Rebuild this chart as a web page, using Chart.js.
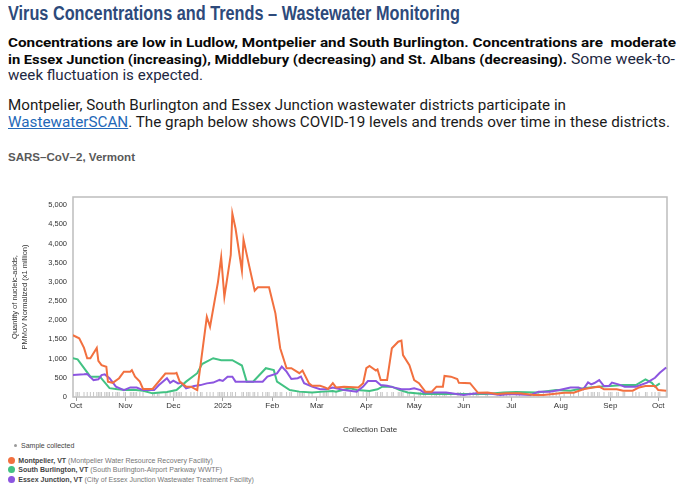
<!DOCTYPE html>
<html><head><meta charset="utf-8">
<script src="https://cdn.jsdelivr.net/npm/chart.js@4.4.0/dist/chart.umd.min.js"></script>
<style>
html,body{margin:0;padding:0;background:#fff;}
body{width:683px;height:489px;position:relative;overflow:hidden;font-family:Roboto,"Liberation Sans",sans-serif;}
.ln{position:absolute;left:8px;white-space:nowrap;transform-origin:0 0;}
.title{font-family:"Liberation Sans Narrow","Liberation Sans",sans-serif;font-weight:bold;color:#2d4a7b;}
.b{font-weight:bold;color:#080808;}
.r{font-weight:normal;color:#1d2842;}
.k{color:#1a1a1a;}
a{color:#2468b8;text-decoration:underline;}
.sars{font-family:"Liberation Sans",sans-serif;font-weight:bold;color:#595959;}
#wrap{position:absolute;left:0;top:170px;width:683px;height:270px;}
.leg{position:absolute;white-space:nowrap;font-family:"Liberation Sans",sans-serif;font-size:7px;line-height:7px;color:#444;}
.leg b{color:#444;}
.leg span{color:#777;}
.dot{position:absolute;border-radius:50%;}
</style></head>
<body>
<div class="ln title" data-fs="20" data-base="19.5" data-w="452">Virus Concentrations and Trends – Wastewater Monitoring</div>
<div class="ln b" data-fs="13.5" data-base="47.2" data-w="668">Concentrations are low in Ludlow, Montpelier and South Burlington. Concentrations are&nbsp; moderate</div>
<div class="ln b" data-fs="13.5" data-base="64.3" data-w="667">in Essex Junction (increasing), Middlebury (decreasing) and St. Albans (decreasing).<span class="r" style="font-size:14.5px"> Some week-to-</span></div>
<div class="ln r" data-fs="14.5" data-base="81" data-w="195">week fluctuation is expected.</div>
<div class="ln k" data-fs="15" data-base="110.7" data-w="558">Montpelier, South Burlington and Essex Junction wastewater districts participate in</div>
<div class="ln k" data-fs="15" data-base="127.3" data-w="662"><a>WastewaterSCAN</a>. The graph below shows COVID-19 levels and trends over time in these districts.</div>
<div class="ln sars" data-fs="11.5" data-base="161.7" data-w="127">SARS–CoV–2, Vermont</div>

<div id="wrap"><canvas id="c" width="683" height="270"></canvas></div>

<div class="dot" style="left:13.5px;top:443.5px;width:3px;height:3px;background:#9a9a9a;"></div>
<div class="leg" style="left:21px;top:441.6px;">Sample collected</div>
<div class="dot" style="left:7.5px;top:457.2px;width:7px;height:7px;background:#f2703f;"></div>
<div class="leg" style="left:18.3px;top:457.3px;"><b>Montpelier, VT</b> <span>(Montpelier Water Resource Recovery Facility)</span></div>
<div class="dot" style="left:7.5px;top:465.8px;width:7px;height:7px;background:#42c283;"></div>
<div class="leg" style="left:18.3px;top:465.9px;"><b>South Burlington, VT</b> <span>(South Burlington-Airport Parkway WWTF)</span></div>
<div class="dot" style="left:7.5px;top:475.5px;width:7px;height:7px;background:#8c55e0;"></div>
<div class="leg" style="left:18.3px;top:475.6px;"><b>Essex Junction, VT</b> <span>(City of Essex Junction Wastewater Treatment Facility)</span></div>

<script>
// ---------- data ----------
const montpelierDates = ['2024-09-29','2024-10-01','2024-10-03','2024-10-06','2024-10-08','2024-10-10','2024-10-14','2024-10-15','2024-10-17','2024-10-20','2024-10-21','2024-10-24','2024-10-28','2024-10-31','2024-11-04','2024-11-05','2024-11-07','2024-11-10','2024-11-12','2024-11-18','2024-11-26','2024-12-02','2024-12-03','2024-12-05','2024-12-09','2024-12-12','2024-12-16','2024-12-22','2024-12-24','2024-12-29','2024-12-31','2025-01-02','2025-01-06','2025-01-07','2025-01-09','2025-01-13','2025-01-14','2025-01-17','2025-01-21','2025-01-23','2025-01-30','2025-02-03','2025-02-06','2025-02-10','2025-02-13','2025-02-18','2025-02-20','2025-02-24','2025-02-26','2025-03-03','2025-03-06','2025-03-08','2025-03-11','2025-03-13','2025-03-18','2025-03-27','2025-03-30','2025-04-01','2025-04-03','2025-04-07','2025-04-08','2025-04-10','2025-04-14','2025-04-17','2025-04-21','2025-04-23','2025-04-24','2025-04-28','2025-05-01','2025-05-04','2025-05-08','2025-05-12','2025-05-15','2025-05-19','2025-05-20','2025-05-24','2025-05-28','2025-05-29','2025-06-05','2025-06-10','2025-06-16','2025-06-22','2025-06-28','2025-07-06','2025-07-15','2025-07-21','2025-07-27','2025-08-03','2025-08-09','2025-08-15','2025-08-21','2025-08-25','2025-08-28','2025-09-05','2025-09-09','2025-09-15','2025-09-19','2025-09-23','2025-09-29','2025-10-01','2025-10-06'];
const montpelierValues = [1610,1570,1530,1280,1010,1010,1280,940,830,790,400,370,490,660,660,700,530,400,210,210,610,610,630,400,270,270,180,2090,1830,3000,3640,2610,3700,4780,4390,3290,4100,3520,2770,2860,2860,2180,1270,750,750,620,690,360,290,290,250,210,360,250,270,250,360,750,810,690,720,440,440,1270,1440,1470,1090,830,440,360,140,140,270,270,550,530,470,370,360,110,120,80,95,95,50,50,80,110,110,200,250,270,200,200,165,165,250,285,285,180,165];

const southBurlingtonDates = ['2024-09-29','2024-10-02','2024-10-10','2024-10-16','2024-10-22','2024-10-27','2024-11-01','2024-11-06','2024-11-12','2024-11-18','2024-11-21','2024-11-27','2024-12-03','2024-12-09','2024-12-16','2024-12-19','2024-12-26','2024-12-31','2025-01-07','2025-01-13','2025-01-16','2025-01-20','2025-01-28','2025-02-02','2025-02-04','2025-02-12','2025-02-18','2025-02-26','2025-03-05','2025-03-11','2025-03-13','2025-03-19','2025-03-22','2025-03-26','2025-04-03','2025-04-08','2025-04-11','2025-04-17','2025-04-22','2025-04-27','2025-05-07','2025-05-17','2025-05-30','2025-06-07','2025-06-15','2025-06-26','2025-07-04','2025-07-17','2025-07-29','2025-08-07','2025-08-15','2025-08-24','2025-09-01','2025-09-09','2025-09-17','2025-09-23','2025-09-27','2025-09-29','2025-10-02'];
const southBurlingtonValues = [1010,980,530,530,230,200,180,190,165,95,110,130,180,400,620,860,1010,960,960,820,400,400,750,700,400,180,140,115,140,155,140,200,225,180,155,200,270,270,180,120,80,80,80,80,80,120,130,120,180,165,225,270,285,310,310,460,370,270,355];

const essexJunctionDates = ['2024-09-29','2024-10-06','2024-10-08','2024-10-12','2024-10-15','2024-10-17','2024-10-19','2024-10-22','2024-10-26','2024-10-31','2024-11-04','2024-11-08','2024-11-12','2024-11-19','2024-11-22','2024-11-27','2024-11-29','2024-12-01','2024-12-04','2024-12-06','2024-12-09','2024-12-14','2024-12-18','2024-12-22','2024-12-26','2024-12-30','2025-01-01','2025-01-04','2025-01-07','2025-01-09','2025-01-18','2025-01-26','2025-01-29','2025-02-04','2025-02-07','2025-02-10','2025-02-13','2025-02-17','2025-02-19','2025-02-21','2025-02-26','2025-03-03','2025-03-07','2025-03-11','2025-03-18','2025-03-26','2025-03-30','2025-04-02','2025-04-07','2025-04-10','2025-04-14','2025-04-18','2025-04-23','2025-04-28','2025-05-01','2025-05-05','2025-05-07','2025-05-14','2025-05-21','2025-06-01','2025-06-09','2025-06-16','2025-06-24','2025-06-30','2025-07-13','2025-07-18','2025-07-25','2025-07-31','2025-08-07','2025-08-12','2025-08-15','2025-08-18','2025-08-20','2025-08-22','2025-08-25','2025-08-28','2025-08-31','2025-09-02','2025-09-06','2025-09-10','2025-09-17','2025-09-24','2025-09-29','2025-10-02','2025-10-06'];
const essexJunctionValues = [570,590,600,440,460,570,590,490,270,180,250,245,180,180,310,490,370,425,355,370,225,285,310,355,375,445,420,530,530,400,400,400,530,615,790,660,470,490,530,360,270,200,200,245,185,140,270,415,415,310,295,250,200,200,225,180,115,115,120,55,95,95,55,80,55,140,140,180,250,250,200,380,330,365,440,285,285,375,330,270,270,375,500,630,770];

const seriesNames = ['Montpelier, VT','South Burlington, VT','Essex Junction, VT'];
const tickDates = ['2024-10-01','2024-11-01','2024-12-01','2025-01-01','2025-02-01','2025-03-01','2025-04-01','2025-05-01','2025-06-01','2025-07-01','2025-08-01','2025-09-01','2025-10-01'];
const tickLabels = ['Oct','Nov','Dec','2025','Feb','Mar','Apr','May','Jun','Jul','Aug','Sep','Oct'];
const yTickValues = [0,500,1000,1500,2000,2500,3000,3500,4000,4500,5000];

// ---------- header text fitting ----------
document.querySelectorAll('.ln').forEach(el => {
  const fs = parseFloat(el.dataset.fs), base = parseFloat(el.dataset.base);
  el.style.fontSize = fs + 'px';
  el.style.lineHeight = fs + 'px';
  el.style.top = (base - 0.845 * fs) + 'px';
  const w = el.getBoundingClientRect().width;
  el.style.transform = 'scaleX(' + (parseFloat(el.dataset.w) / w) + ')';
});

// ---------- chart ----------
const T0 = Date.parse('2024-10-01');
const toDay = d => (Date.parse(d) - T0) / 86400000;
const pts = (ds, vs) => ds.map((d, i) => ({x: toDay(d), y: vs[i]}));
const sampleDays = [...new Set([...montpelierDates, ...southBurlingtonDates, ...essexJunctionDates])].map(toDay).sort((a, b) => a - b);
const tickDays = tickDates.map(toDay);
const RUG_LEVEL = 65;

const FONT = '"Liberation Sans", Arial, sans-serif';
const framePlugin = {
  id: 'frame',
  beforeDatasetsDraw(chart) {
    const a = chart.chartArea, ctx = chart.ctx;
    ctx.save();
    ctx.strokeStyle = '#bdbdbd';
    ctx.lineWidth = 1.5;
    ctx.strokeRect(a.left, a.top, a.right - a.left, a.bottom - a.top);
    ctx.restore();
  }
};

const lineDs = (label, data, color, order) => ({
  label, data, borderColor: color, backgroundColor: color, borderWidth: 2,
  pointRadius: 0, tension: 0, fill: false, order
});

new Chart(document.getElementById('c'), {
  type: 'line',
  data: {
    datasets: [
      {label: 'Sample collected', data: sampleDays.map(d => ({x: d, y: RUG_LEVEL})), showLine: false,
       pointStyle: 'line', pointRotation: 90, pointRadius: 2.5, pointBorderColor: '#c6c6c6',
       pointBorderWidth: 1, borderColor: '#c6c6c6', order: 10},
      lineDs(seriesNames[1], pts(southBurlingtonDates, southBurlingtonValues), '#42c283', 3),
      lineDs(seriesNames[2], pts(essexJunctionDates, essexJunctionValues), '#8c55e0', 2),
      lineDs(seriesNames[0], pts(montpelierDates, montpelierValues), '#f2703f', 1)
    ]
  },
  options: {
    responsive: false, animation: false, events: [],
    layout: {padding: {left: 0, right: 16, top: 27, bottom: 5}},
    plugins: {legend: {display: false}, tooltip: {enabled: false}},
    scales: {
      x: {
        type: 'linear', min: -1.9, max: 370.5,
        afterBuildTicks: s => { s.ticks = tickDays.map(v => ({value: v})); },
        afterFit: s => { s.height = 38; },
        grid: {display: true, drawOnChartArea: false, drawTicks: true, tickLength: 4, color: '#a0a0a0', lineWidth: 1},
        border: {display: false},
        ticks: {autoSkip: false, maxRotation: 0, padding: 0, color: '#333',
                font: {family: FONT, size: 8}, callback: (v, i) => tickLabels[i]},
        title: {display: true, text: 'Collection Date', color: '#333',
                font: {family: FONT, size: 8}, padding: {top: 0, bottom: 0}}
      },
      y: {
        type: 'linear', min: 0, max: 5210,
        afterBuildTicks: s => { s.ticks = yTickValues.map(v => ({value: v})); },
        afterFit: s => { s.width = 73; },
        grid: {display: false, drawTicks: false},
        border: {display: false},
        ticks: {autoSkip: false, padding: 6, color: '#333',
                font: {family: FONT, size: 7.5},
                callback: v => v.toLocaleString('en-US')},
        title: {display: true, text: ['Quantity of nucleic-acids,', 'PMMoV Normalized (x1 million)'],
                color: '#333', font: {family: FONT, size: 7.5, lineHeight: 1.33},
                padding: {top: 10, bottom: 0}}
      }
    }
  },
  plugins: [framePlugin]
});
</script>
</body></html>
